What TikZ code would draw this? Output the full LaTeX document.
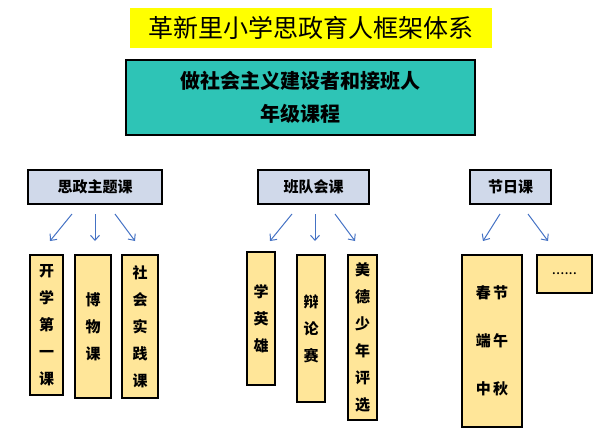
\documentclass[tikz,border=0pt]{standalone}
\usepackage{fontspec}
\setmainfont{Noto Sans CJK SC}
\usetikzlibrary{arrows.meta}
\definecolor{ttlyel}{HTML}{FFFF00}
\definecolor{teal}{HTML}{2EC4B6}
\definecolor{catblue}{HTML}{D0D9EA}
\definecolor{boxyel}{HTML}{FFE699}
\definecolor{arrblue}{HTML}{4472C4}
\tikzset{
  catbox/.style={draw,line width=1.6pt,fill=catblue,font=\bfseries\fontsize{15}{18}\selectfont,inner sep=0pt},
  colbox/.style={draw,line width=1.6pt,fill=boxyel,font=\bfseries\fontsize{15}{27}\selectfont,align=center,inner sep=0pt},
  arr/.style={-{Straight Barb[length=5pt,width=9pt]},arrblue,line width=1pt}
}
\begin{document}
\begin{tikzpicture}[x=1pt,y=-1pt]
\useasboundingbox (0,0) rectangle (611,444);
% title
\node[fill=ttlyel,minimum width=362pt,minimum height=40pt,font=\fontsize{25}{28}\selectfont] (title) at (311,28) {革新里小学思政育人框架体系};
\node[draw,line width=1.6pt,fill=teal,minimum width=349pt,minimum height=75pt,align=center,font=\bfseries\fontsize{20}{33}\selectfont] (main) at (300.5,97.5) {做社会主义建设者和接班人\\年级课程};
% categories
\node[catbox,minimum width=134pt,minimum height=34pt] (szk) at (95,187) {思政主题课};
\node[catbox,minimum width=111pt,minimum height=34pt] (bdh) at (313.5,187) {班队会课};
\node[catbox,minimum width=81pt,minimum height=34pt] (jrk) at (510.5,187) {节日课};
% course boxes
\node[colbox,minimum width=33pt,minimum height=140pt] (kx) at (46.5,325) {开\\学\\第\\一\\课};
\node[colbox,minimum width=36pt,minimum height=143pt] (bw) at (93,326.5) {博\\物\\课};
\node[colbox,minimum width=36pt,minimum height=143pt] (sh) at (140,326.5) {社\\会\\实\\践\\课};
\node[colbox,minimum width=28pt,minimum height=133pt] (xy) at (261,318.5) {学\\英\\雄};
\node[colbox,minimum width=28pt,minimum height=147pt] (bl) at (311,328.5) {辩\\论\\赛};
\node[colbox,minimum width=29pt,minimum height=165pt] (md) at (362.5,337.5) {美\\德\\少\\年\\评\\选};
\node[colbox,minimum width=60pt,minimum height=172pt,font=\bfseries\fontsize{15}{48}\selectfont] (jq) at (492,341) {春\,节\\端\,午\\中\,秋};
\node[draw,line width=1.6pt,fill=boxyel,minimum width=55pt,minimum height=38pt,font=\fontsize{15}{18}\selectfont] (more) at (564.5,274) {......};
% arrows
\foreach \n/\sx/\ex in {a/72/50,b/95/95,c/115/135,d/292/270,e/315/315,f/335/355,g/500/483,h/528/548}{
  \coordinate (s\n) at (\sx,214);
  \coordinate (e\n) at (\ex,241);
  \draw[arr] (s\n) -- (e\n);
}
\end{tikzpicture}
\end{document}
